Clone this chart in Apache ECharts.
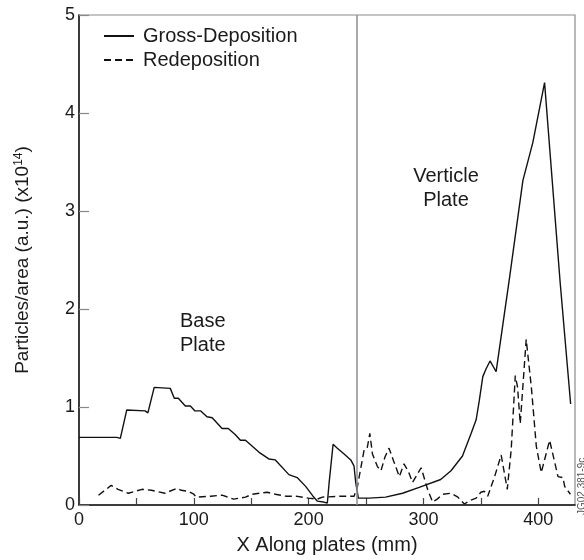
<!DOCTYPE html>
<html>
<head>
<meta charset="utf-8">
<script src="https://cdn.jsdelivr.net/npm/echarts@6/dist/echarts.min.js"></script>
<style>
  html, body { margin: 0; padding: 0; background: #fff; }
  #chart { width: 584px; height: 560px; }
</style>
</head>
<body>
<div id="chart"></div>
<script>
// Gross-Deposition (solid line)
const grossX = [0, 33, 36, 41.6, 57.6, 60, 65.5, 79.5, 83, 86.5, 92.6, 97, 101, 106, 111.5, 116, 124.6, 130, 136, 140.6,
  145, 156.6, 165.3, 171, 182.8, 190, 197.4, 203.8, 207.5, 213, 216.3, 217.8, 221.3, 225, 230.9, 236.7, 239.5, 241,
  243.3, 245, 252.7, 267, 281.8, 296.3, 315, 324, 334, 341.5, 345.9, 348.7, 351.7, 354.6, 358, 363.3, 375, 386.6,
  395.3, 405.5, 419, 428.2]
const grossY = [0.69, 0.69, 0.68, 0.97, 0.96, 0.94, 1.2, 1.19, 1.09, 1.09, 1.01, 1.01, 0.96, 0.96, 0.9, 0.89, 0.78, 0.78,
  0.72, 0.66, 0.66, 0.54, 0.47, 0.46, 0.31, 0.28, 0.19, 0.09, 0.04, 0.03, 0.02, 0.22, 0.62, 0.58, 0.52, 0.46, 0.4, 0.23,
  0.07, 0.05, 0.07, 0.08, 0.12, 0.18, 0.26, 0.35, 0.5, 0.73, 0.87, 1.07, 1.31, 1.39, 1.47, 1.36, 2.32, 3.31, 3.7, 4.31,
  2.28, 1.03]

// Redeposition (dashed line)
const redepX = [17, 28, 34, 43, 55, 63, 75, 85, 89, 95, 100, 102, 115, 124.6, 134.8, 145, 150.8, 164, 171, 180, 189, 200,
  207.5, 212, 229, 239.6, 242.5, 248.3, 251, 253.3, 255.6, 260, 263, 266.5, 270, 274, 279, 283, 287, 290.5, 298, 303.6,
  308, 312, 316.8, 324, 330, 335.6, 341.4, 345.9, 350, 353, 356, 362, 367.7, 373, 376.4, 380, 382, 384.3, 389.5, 394,
  398.3, 402.6, 409.9, 417.2, 421.5, 423, 428]
const redepY = [0.1, 0.2, 0.16, 0.12, 0.16, 0.15, 0.12, 0.17, 0.15, 0.14, 0.11, 0.08, 0.09, 0.1, 0.06, 0.08, 0.11, 0.13,
  0.11, 0.09, 0.09, 0.07, 0.06, 0.08, 0.09, 0.09, 0.19, 0.56, 0.58, 0.73, 0.52, 0.39, 0.35, 0.49, 0.58, 0.45, 0.29, 0.42,
  0.34, 0.23, 0.38, 0.16, 0.03, 0.06, 0.11, 0.12, 0.08, 0.01, 0.05, 0.07, 0.13, 0.14, 0.09, 0.29, 0.51, 0.16, 0.56, 1.32,
  1.2, 0.83, 1.69, 1.2, 0.6, 0.33, 0.66, 0.29, 0.28, 0.19, 0.11]

const plateBoundary = 242
const seriesNames = ['Gross-Deposition', 'Redeposition']

const zip = (xs, ys) => xs.map((x, i) => [x, ys[i]])
const font = 'Liberation Sans, Arial, Helvetica, sans-serif'

const chart = echarts.init(document.getElementById('chart'))
const option = {
  animation: false,
  textStyle: { fontFamily: font },
  grid: {
    left: 79,
    right: 9,
    top: 15,
    bottom: 51,
    show: true,
    borderColor: '#8a8a8a',
    borderWidth: 1.2
  },
  legend: {
    data: seriesNames,
    orient: 'vertical',
    left: 98,
    top: 21,
    itemWidth: 30,
    itemHeight: 14,
    itemGap: 4,
    itemStyle: { opacity: 0 },
    textStyle: { fontSize: 20, color: '#1a1a1a', lineHeight: 20, fontFamily: font, padding: [0, 0, 0, 4] }
  },
  xAxis: {
    type: 'value',
    min: 0,
    max: 432,
    interval: 50,
    name: 'X Along plates (mm)',
    nameLocation: 'middle',
    nameGap: 30,
    nameTextStyle: { fontSize: 20, color: '#1a1a1a', fontFamily: font },
    splitLine: { show: false },
    axisLine: { lineStyle: { color: '#111', width: 1.5 } },
    axisTick: { inside: true, length: 7, lineStyle: { color: '#444', width: 1.2 } },
    axisLabel: {
      fontSize: 18,
      color: '#1a1a1a',
      margin: 6,
      showMaxLabel: false,
      formatter: v => (v % 100 === 0 ? String(v) : '')
    }
  },
  yAxis: {
    type: 'value',
    min: 0,
    max: 5,
    interval: 1,
    name: 'Particles/area (a.u.) (x10{sup|14})',
    nameLocation: 'middle',
    nameGap: 46,
    nameTextStyle: {
      fontSize: 19,
      color: '#1a1a1a',
      fontFamily: font,
      rich: { sup: { fontSize: 12, verticalAlign: 'top', color: '#1a1a1a', fontFamily: font, padding: [0, 0, 8, 0] } }
    },
    splitLine: { show: false },
    axisLine: { lineStyle: { color: '#111', width: 1.5 } },
    axisTick: { inside: true, length: 10, lineStyle: { color: '#888', width: 1.2 } },
    axisLabel: { fontSize: 18, color: '#1a1a1a', margin: 4 }
  },
  series: [
    {
      name: seriesNames[0],
      type: 'line',
      symbol: 'none',
      data: zip(grossX, grossY),
      lineStyle: { color: '#111', width: 1.4 },
      itemStyle: { color: '#111' },
      markLine: {
        silent: true,
        symbol: 'none',
        label: { show: false },
        lineStyle: { color: '#8a8e94', width: 1.5, type: 'solid' },
        data: [{ xAxis: plateBoundary }]
      }
    },
    {
      name: seriesNames[1],
      type: 'line',
      symbol: 'none',
      data: zip(redepX, redepY),
      lineStyle: { color: '#111', width: 1.4, type: [7, 4] },
      itemStyle: { color: '#111' }
    }
  ],
  graphic: [
    {
      type: 'text',
      x: 180,
      y: 309,
      style: { text: 'Base\nPlate', fontSize: 20, lineHeight: 24, fill: '#1a1a1a', fontFamily: font }
    },
    {
      type: 'text',
      x: 446,
      y: 164,
      style: { text: 'Verticle\nPlate', fontSize: 20, lineHeight: 24, fill: '#1a1a1a', align: 'center', fontFamily: font }
    },
    {
      type: 'text',
      x: 577,
      y: 515,
      rotation: Math.PI / 2,
      style: { text: 'JG02.381-9c', fontSize: 10, fill: '#555', fontFamily: font }
    }
  ]
}
chart.setOption(option)
</script>
</body>
</html>
